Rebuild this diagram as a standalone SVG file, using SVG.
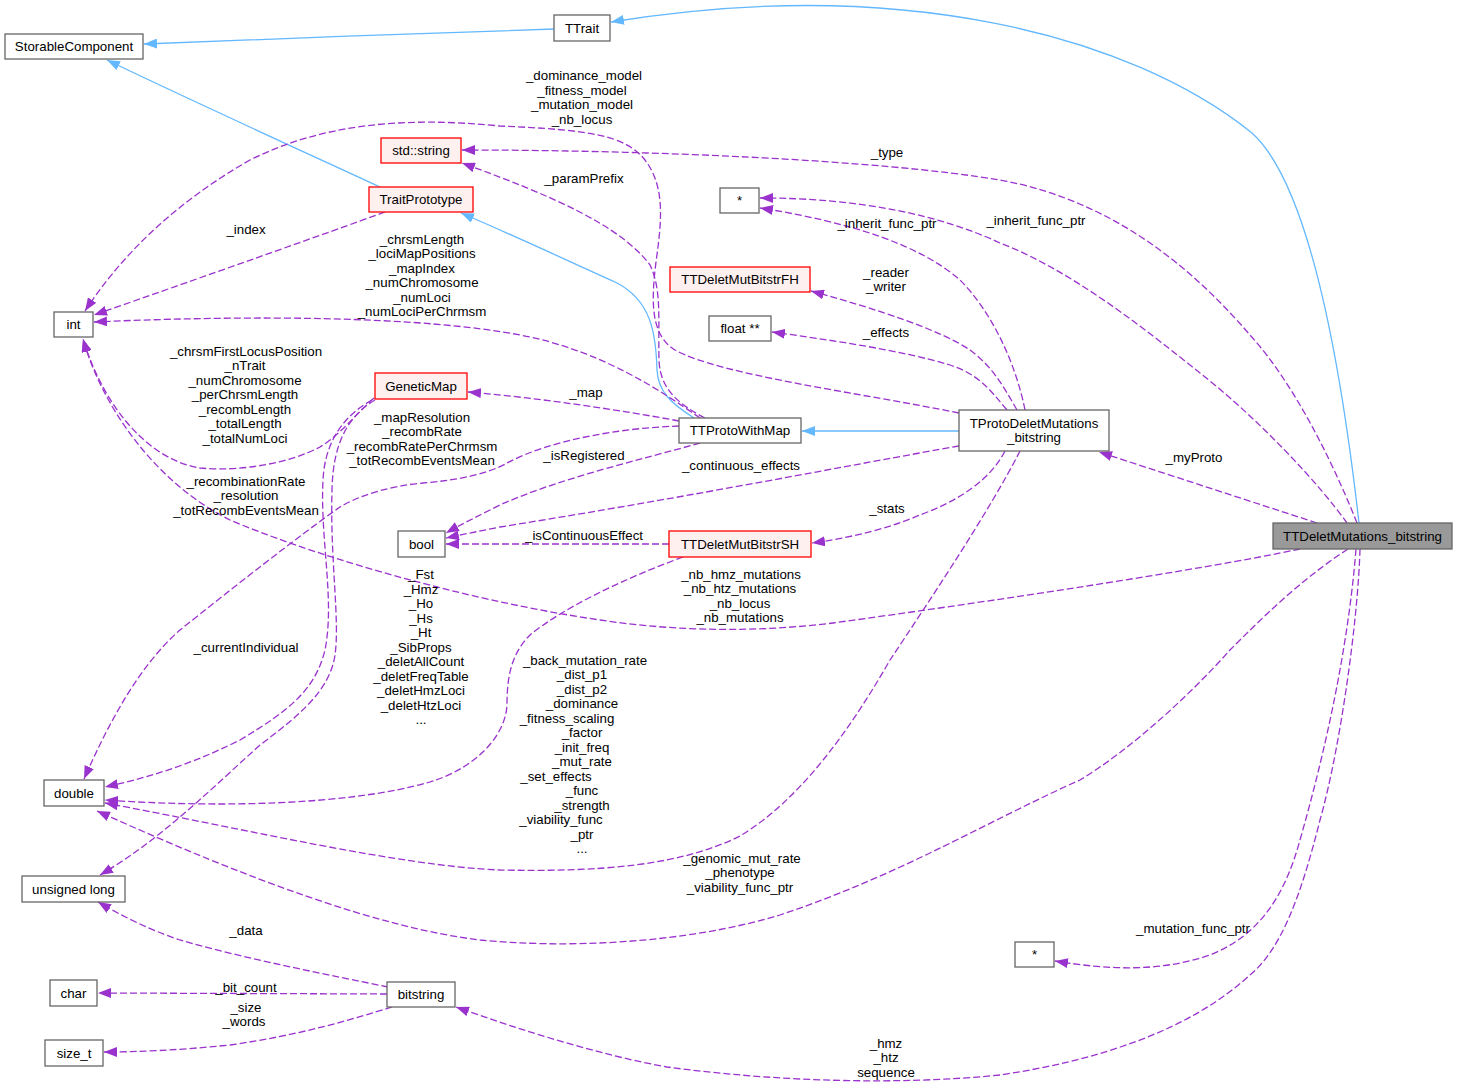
<svg xmlns="http://www.w3.org/2000/svg" width="1457" height="1089" viewBox="0 0 1457 1089">
<defs>
<style>
text{font-family:"Liberation Sans",Arial,sans-serif;font-size:13.3px;fill:#000;text-anchor:middle}
.node rect{fill:#fff;stroke:#666;stroke-width:1.3}
.node.red rect{fill:#fff0f0;stroke:#f00}
.node.main rect{fill:#999;stroke:#666}
#edges path{fill:none;stroke-width:1.3}
#edges .u{stroke:#9a32cd;stroke-dasharray:7,3;marker-end:url(#ap)}
#edges .h{stroke:#63b8ff;marker-end:url(#ab)}
</style>
<marker id="ap" markerUnits="userSpaceOnUse" viewBox="0 0 13 10" refX="13" refY="5" markerWidth="13" markerHeight="10" orient="auto"><path d="M0,0 L13,5 L0,10 z" fill="#9a32cd" stroke="none"/></marker>
<marker id="ab" markerUnits="userSpaceOnUse" viewBox="0 0 13 10" refX="13" refY="5" markerWidth="13" markerHeight="10" orient="auto"><path d="M0,0 L13,5 L0,10 z" fill="#63b8ff" stroke="none"/></marker>
</defs>
<rect width="1457" height="1089" fill="#fff"/>
<g id="edges">
<path class="h" d="M554,29 C450,32 250,40 144,44"/>
<path class="h" d="M380,187 C300,150 190,100 107,60"/>
<path class="h" d="M694,418 C672,404 658,392 657,370 C656,335 652,300 615,282 C570,262 520,238 461,213"/>
<path class="h" d="M959,431 L802,431"/>
<path class="h" d="M1359,523 C1345,400 1315,190 1252,133 C1130,35 900,-25 611,22"/>
<path class="u" d="M1317,523 L1099,452"/>
<path class="u" d="M1357,523 C1340,480 1300,390 1250,335 C1190,265 1110,200 1000,180 C880,160 650,150 462,150"/>
<path class="u" d="M1347,523 C1320,485 1260,420 1200,373 C1140,325 1070,270 1000,243 C940,215 860,198 760,198"/>
<path class="u" d="M1025,410 C1015,360 990,310 960,280 C920,245 850,222 760,208"/>
<path class="u" d="M1017,410 C1000,380 990,365 970,350 C940,330 880,310 811,291"/>
<path class="u" d="M1007,410 C990,390 980,375 950,365 C900,350 830,340 772,332"/>
<path class="u" d="M959,413 C860,393 720,375 675,350 C650,335 652,300 655,270 C660,230 668,190 645,160 C625,135 590,130 500,126 C400,116 320,125 250,160 C180,200 125,250 85,311"/>
<path class="u" d="M705,418 C680,405 660,390 659,360 C658,320 662,290 650,265 C620,225 550,195 462,163"/>
<path class="u" d="M700,418 C660,390 600,350 520,335 C420,316 250,315 94,322"/>
<path class="u" d="M385,212 C330,232 200,278 94,315"/>
<path class="u" d="M679,421 C620,410 540,398 468,392"/>
<path class="u" d="M700,443 C640,460 560,478 500,505 C480,515 460,525 446,533"/>
<path class="u" d="M959,446 C850,465 700,495 500,527 C480,531 460,535 446,538"/>
<path class="u" d="M669,544 L446,544"/>
<path class="u" d="M1005,451 C990,480 960,500 920,515 C890,528 850,538 812,543"/>
<path class="u" d="M1300,549 C1200,570 1000,600 833,623 C760,632 680,632 600,620 C450,598 300,550 230,520 C150,480 100,400 83,339"/>
<path class="u" d="M374,398 C355,415 340,435 320,447 C290,463 240,472 200,468 C150,460 105,410 83,339"/>
<path class="u" d="M372,400 C345,415 325,440 323,480 C320,540 335,600 325,650 C315,690 290,710 240,740 C200,760 160,775 105,787"/>
<path class="u" d="M375,400 C350,415 333,440 332,490 C330,560 340,620 335,655 C330,690 300,715 260,745 C210,790 160,840 100,875"/>
<path class="u" d="M679,426 C620,428 550,440 507,463 C490,473 460,480 423,483 C390,486 360,495 340,507 C300,535 230,590 180,630 C140,665 110,720 84,779"/>
<path class="u" d="M683,557 C620,580 560,610 530,635 C510,655 507,680 507,705 C505,740 470,770 430,782 C350,805 220,808 105,800"/>
<path class="u" d="M1020,451 C990,510 930,600 890,660 C850,730 800,800 740,836 C680,866 600,872 500,870 C400,866 250,830 105,803"/>
<path class="u" d="M1348,549 C1300,580 1260,620 1230,650 C1190,695 1130,750 1080,780 C990,820 900,875 780,915 C680,945 560,948 480,940 C380,928 250,880 97,811"/>
<path class="u" d="M1356,549 C1352,600 1340,700 1300,840 C1285,895 1260,935 1210,955 C1160,972 1110,970 1055,961"/>
<path class="u" d="M1360,549 C1358,620 1340,750 1320,820 C1300,900 1280,950 1250,975 C1190,1030 1100,1060 1000,1075 C900,1085 780,1082 667,1067 C600,1055 520,1030 456,1007"/>
<path class="u" d="M388,987 C330,975 250,960 180,940 C150,930 120,915 98,902"/>
<path class="u" d="M387,994 L98,993"/>
<path class="u" d="M392,1007 C350,1020 300,1035 230,1045 C180,1050 140,1052 104,1052"/>
</g>
<g id="edge-labels">
<text><tspan x="584" y="80">_dominance_model</tspan><tspan x="582" y="94.5">_fitness_model</tspan><tspan x="582" y="109">_mutation_model</tspan><tspan x="582" y="123.5">_nb_locus</tspan></text>
<text x="887" y="156.5">_type</text>
<text x="584" y="182.5">_paramPrefix</text>
<text x="887" y="227.5">_inherit_func_ptr</text>
<text x="1036" y="224.5">_inherit_func_ptr</text>
<text><tspan x="886" y="276.5">_reader</tspan><tspan x="886" y="291">_writer</tspan></text>
<text x="886" y="336.5">_effects</text>
<text x="246" y="233.5">_index</text>
<text><tspan x="422" y="243.5">_chrsmLength</tspan><tspan x="422" y="258">_lociMapPositions</tspan><tspan x="422" y="272.5">_mapIndex</tspan><tspan x="422" y="287">_numChromosome</tspan><tspan x="422" y="301.5">_numLoci</tspan><tspan x="422" y="316">_numLociPerChrmsm</tspan></text>
<text><tspan x="246" y="355.5">_chrsmFirstLocusPosition</tspan><tspan x="245" y="370">_nTrait</tspan><tspan x="245" y="384.5">_numChromosome</tspan><tspan x="245" y="399">_perChrsmLength</tspan><tspan x="245" y="413.5">_recombLength</tspan><tspan x="245" y="428">_totalLength</tspan><tspan x="245" y="442.5">_totalNumLoci</tspan></text>
<text><tspan x="422" y="421.5">_mapResolution</tspan><tspan x="422" y="436">_recombRate</tspan><tspan x="422" y="450.5">_recombRatePerChrmsm</tspan><tspan x="422" y="465">_totRecombEventsMean</tspan></text>
<text><tspan x="246" y="485.5">_recombinationRate</tspan><tspan x="246" y="500">_resolution</tspan><tspan x="246" y="514.5">_totRecombEventsMean</tspan></text>
<text x="246" y="651.5">_currentIndividual</text>
<text x="586" y="396.5">_map</text>
<text x="584" y="459.5">_isRegistered</text>
<text x="741" y="469.5">_continuous_effects</text>
<text x="584" y="539.5">_isContinuousEffect</text>
<text x="887" y="512.5">_stats</text>
<text><tspan x="741" y="578.5">_nb_hmz_mutations</tspan><tspan x="740" y="593">_nb_htz_mutations</tspan><tspan x="740" y="607.5">_nb_locus</tspan><tspan x="740" y="622">_nb_mutations</tspan></text>
<text x="1194" y="461.5">_myProto</text>
<text><tspan x="421" y="579">_Fst</tspan><tspan x="421" y="593.5">_Hmz</tspan><tspan x="421" y="608">_Ho</tspan><tspan x="421" y="622.5">_Hs</tspan><tspan x="421" y="637">_Ht</tspan><tspan x="421" y="651.5">_SibProps</tspan><tspan x="421" y="666">_deletAllCount</tspan><tspan x="421" y="680.5">_deletFreqTable</tspan><tspan x="421" y="695">_deletHmzLoci</tspan><tspan x="421" y="709.5">_deletHtzLoci</tspan><tspan x="421" y="724">...</tspan></text>
<text><tspan x="585" y="664.5">_back_mutation_rate</tspan><tspan x="582" y="679">_dist_p1</tspan><tspan x="582" y="693.5">_dist_p2</tspan><tspan x="582" y="708">_dominance</tspan><tspan x="567" y="722.5">_fitness_scaling</tspan><tspan x="582" y="737">_factor</tspan><tspan x="582" y="751.5">_init_freq</tspan><tspan x="582" y="766">_mut_rate</tspan><tspan x="556" y="780.5">_set_effects</tspan><tspan x="582" y="795">_func</tspan><tspan x="582" y="809.5">_strength</tspan><tspan x="561" y="824">_viability_func</tspan><tspan x="582" y="838.5">_ptr</tspan><tspan x="582" y="853">...</tspan></text>
<text><tspan x="742" y="862.5">_genomic_mut_rate</tspan><tspan x="740" y="877">_phenotype</tspan><tspan x="740" y="891.5">_viability_func_ptr</tspan></text>
<text x="1193" y="932.5">_mutation_func_ptr</text>
<text x="246" y="934.5">_data</text>
<text x="246" y="991.5">_bit_count</text>
<text><tspan x="246" y="1011.5">_size</tspan><tspan x="244" y="1026">_words</tspan></text>
<text><tspan x="886" y="1047.5">_hmz</tspan><tspan x="886" y="1062">_htz</tspan><tspan x="886" y="1076.5">sequence</tspan></text>
</g>
<g id="n-StorableComponent" class="node"><rect x="5" y="34" width="138" height="25"/><text x="74" y="51.2">StorableComponent</text></g>
<g id="n-TTrait" class="node"><rect x="554" y="15" width="56" height="26"/><text x="582" y="32.7">TTrait</text></g>
<g id="n-stdstring" class="node red"><rect x="381" y="138" width="80" height="25"/><text x="421" y="155.2">std::string</text></g>
<g id="n-TraitPrototype" class="node red"><rect x="369" y="187" width="104" height="25"/><text x="421" y="204.2">TraitPrototype</text></g>
<g id="n-ptr1" class="node"><rect x="720" y="188" width="39" height="25"/><text x="739.5" y="205.2">*</text></g>
<g id="n-TTDeletMutBitstrFH" class="node red"><rect x="670" y="267" width="140" height="25"/><text x="740" y="284.2">TTDeletMutBitstrFH</text></g>
<g id="n-floatpp" class="node"><rect x="709" y="316" width="62" height="25"/><text x="740" y="333.2">float **</text></g>
<g id="n-int" class="node"><rect x="54" y="312" width="39" height="25"/><text x="73.5" y="329.2">int</text></g>
<g id="n-GeneticMap" class="node red"><rect x="375" y="373" width="92" height="26"/><text x="421" y="390.7">GeneticMap</text></g>
<g id="n-TTProtoWithMap" class="node"><rect x="679" y="418" width="122" height="25"/><text x="740" y="435.2">TTProtoWithMap</text></g>
<g id="n-TProtoDeletMutations_bitstring" class="node"><rect x="959" y="410" width="150" height="41"/><text><tspan x="1034" y="427.5">TProtoDeletMutations</tspan><tspan x="1034" y="442">_bitstring</tspan></text></g>
<g id="n-TTDeletMutations_bitstring" class="node main"><rect x="1273" y="523" width="179" height="26"/><text x="1362.5" y="540.7">TTDeletMutations_bitstring</text></g>
<g id="n-bool" class="node"><rect x="398" y="531" width="47" height="26"/><text x="421.5" y="548.7">bool</text></g>
<g id="n-TTDeletMutBitstrSH" class="node red"><rect x="669" y="531" width="142" height="26"/><text x="740" y="548.7">TTDeletMutBitstrSH</text></g>
<g id="n-double" class="node"><rect x="44" y="780" width="60" height="26"/><text x="74" y="797.7">double</text></g>
<g id="n-unsignedlong" class="node"><rect x="22" y="876" width="103" height="26"/><text x="73.5" y="893.7">unsigned long</text></g>
<g id="n-char" class="node"><rect x="50" y="980" width="47" height="26"/><text x="73.5" y="997.7">char</text></g>
<g id="n-bitstring" class="node"><rect x="387" y="982" width="68" height="25"/><text x="421" y="999.2">bitstring</text></g>
<g id="n-size_t" class="node"><rect x="45" y="1040" width="58" height="26"/><text x="74" y="1057.7">size_t</text></g>
<g id="n-ptr2" class="node"><rect x="1015" y="942" width="39" height="25"/><text x="1034.5" y="959.2">*</text></g>
</svg>
